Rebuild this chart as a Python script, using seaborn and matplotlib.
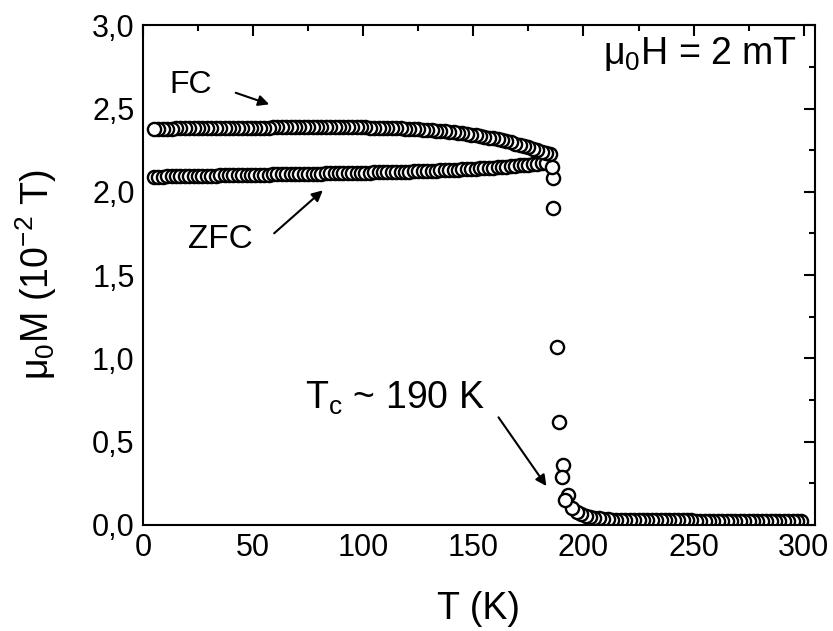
import numpy as np
import pandas as pd
import matplotlib
matplotlib.use("Agg")
import matplotlib.pyplot as plt
import seaborn as sns
from matplotlib.ticker import MultipleLocator, FixedLocator, FixedFormatter

# temperature grid of the sweeps (K)
t_fc = list(range(5, 186, 2))
t_zfc = list(range(5, 184, 2))

# field cooled branch, 10^-2 T
m_fc = [2.376, 2.378, 2.379, 2.380, 2.380, 2.381, 2.381, 2.382, 2.382, 2.382,
        2.383, 2.383, 2.383, 2.384, 2.384, 2.384, 2.384, 2.385, 2.385, 2.385,
        2.385, 2.385, 2.386, 2.386, 2.386, 2.386, 2.386, 2.387, 2.387, 2.387,
        2.387, 2.387, 2.387, 2.388, 2.388, 2.388, 2.388, 2.388, 2.388, 2.388,
        2.388, 2.388, 2.388, 2.388, 2.388, 2.387, 2.387, 2.387, 2.387, 2.386,
        2.386, 2.385, 2.385, 2.384, 2.383, 2.382, 2.381, 2.380, 2.379, 2.378,
        2.376, 2.374, 2.372, 2.370, 2.368, 2.366, 2.363, 2.360, 2.357, 2.354,
        2.351, 2.348, 2.344, 2.340, 2.336, 2.331, 2.326, 2.321, 2.316, 2.310,
        2.304, 2.297, 2.290, 2.283, 2.275, 2.267, 2.259, 2.250, 2.242, 2.234,
        2.225]

# zero field cooled branch
m_zfc = [2.090, 2.091, 2.091, 2.092, 2.092, 2.093, 2.093, 2.094, 2.094, 2.095,
         2.095, 2.096, 2.096, 2.097, 2.097, 2.098, 2.098, 2.099, 2.099, 2.100,
         2.100, 2.101, 2.101, 2.102, 2.102, 2.103, 2.103, 2.104, 2.104, 2.105,
         2.105, 2.106, 2.106, 2.107, 2.107, 2.108, 2.108, 2.109, 2.109, 2.110,
         2.110, 2.111, 2.112, 2.112, 2.113, 2.113, 2.114, 2.115, 2.115, 2.116,
         2.117, 2.117, 2.118, 2.119, 2.119, 2.120, 2.121, 2.121, 2.122, 2.123,
         2.124, 2.125, 2.126, 2.127, 2.128, 2.129, 2.130, 2.131, 2.132, 2.134,
         2.135, 2.136, 2.138, 2.139, 2.141, 2.142, 2.144, 2.146, 2.148, 2.150,
         2.152, 2.154, 2.156, 2.159, 2.161, 2.164, 2.167, 2.170, 2.173, 2.176]

# transition region and paramagnetic tail
t_tr = [185.5, 186.1, 186.1, 187.9, 188.8, 190.2, 190.6, 191.6, 192.9, 194.7,
        197, 199, 201, 203, 205, 207, 209, 211, 213, 215]
m_tr = [2.15, 2.08, 1.90, 1.07, 0.62, 0.29, 0.36, 0.15, 0.18, 0.10,
        0.080, 0.065, 0.055, 0.048, 0.043, 0.039, 0.036, 0.034, 0.032, 0.031]
t_tail = list(range(217, 300, 2))
m_tail = [0.030, 0.030, 0.030, 0.029, 0.029, 0.029, 0.029, 0.028, 0.028, 0.028,
          0.028, 0.028, 0.027, 0.027, 0.027, 0.027, 0.027, 0.026, 0.026, 0.026,
          0.026, 0.026, 0.026, 0.025, 0.025, 0.025, 0.025, 0.025, 0.025, 0.025,
          0.025, 0.024, 0.024, 0.024, 0.024, 0.024, 0.024, 0.024, 0.024, 0.024,
          0.024, 0.024]

x_ticks = [0, 50, 100, 150, 200, 250, 300]
y_ticks = [0.0, 0.5, 1.0, 1.5, 2.0, 2.5, 3.0]
y_labels = ["0,0", "0,5", "1,0", "1,5", "2,0", "2,5", "3,0"]

zfc = pd.DataFrame({"T": t_zfc, "M": m_zfc})
# FC branch measured on cooling: tail -> transition -> low T
fc = pd.DataFrame({"T": t_fc + t_tr + t_tail, "M": m_fc + m_tr + m_tail})
fc = fc.sort_values("T", ascending=False)

sns.set_theme(style="white")
plt.rcParams['font.family'] = ['Liberation Sans', 'DejaVu Sans']
plt.rcParams['mathtext.fontset'] = 'custom'
plt.rcParams['mathtext.rm'] = 'Liberation Sans'
plt.rcParams['mathtext.default'] = 'regular'
plt.rcParams['text.color'] = 'black'
plt.rcParams['axes.labelcolor'] = 'black'

fig = plt.figure(figsize=(8.33, 6.31), dpi=100)
ax = fig.add_axes([0.1717, 0.168, 0.8063, 0.792])

for df in [zfc, fc]:
    sns.scatterplot(data=df, x="T", y="M", marker="o", s=90, color="white",
                    edgecolor="black", linewidth=1.7, legend=False, ax=ax)

ax.set_xlim(0, 305)
ax.set_ylim(0, 3.0)
ax.xaxis.set_major_locator(FixedLocator(x_ticks))
ax.xaxis.set_minor_locator(MultipleLocator(25))
ax.yaxis.set_major_locator(FixedLocator(y_ticks))
ax.yaxis.set_major_formatter(FixedFormatter(y_labels))
ax.yaxis.set_minor_locator(MultipleLocator(0.25))
ax.tick_params(which="both", direction="in", top=True, right=True,
               width=1.5, labelsize=22, color="black", labelcolor="black")
ax.tick_params(which="major", length=8, pad=6)
ax.tick_params(which="minor", length=4.5)
for sp in ax.spines.values():
    sp.set_linewidth(1.5)
    sp.set_color("black")

ax.set_xlabel("T (K)", fontsize=27, labelpad=20)
ax.set_ylabel("μ$_0$M (10$^{-2}$ T)", fontsize=27, labelpad=24)

arr = dict(arrowstyle="-|>", color="black", lw=1.5, mutation_scale=16)
ax.text(11.8, 2.64, "FC", fontsize=23, va="center", ha="left")
ax.annotate("", xy=(58.5, 2.52), xytext=(40.9, 2.60), arrowprops=arr)
ax.text(20.4, 1.716, "ZFC", fontsize=24, va="center", ha="left")
ax.annotate("", xy=(82.6, 2.02), xytext=(58.6, 1.74), arrowprops=arr)
ax.text(73.5, 0.70, "T$_c$ ~ 190 K", fontsize=27, va="baseline", ha="left")
ax.annotate("", xy=(183.9, 0.22), xytext=(160.7, 0.66), arrowprops=arr)
ax.text(209.0, 2.77, "μ$_0$H = 2 mT", fontsize=27, va="baseline", ha="left")

fig.savefig("out.png", dpi=100)
